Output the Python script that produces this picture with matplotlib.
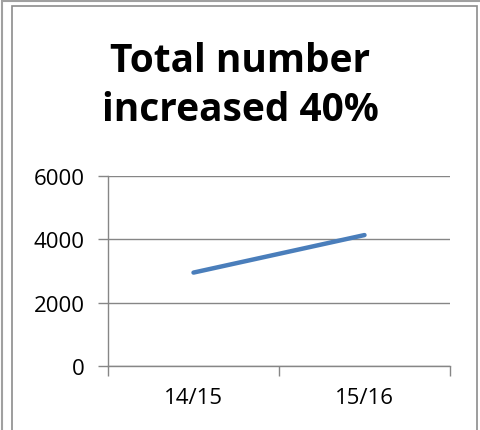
import matplotlib
matplotlib.use('Agg')
import matplotlib.pyplot as plt
from matplotlib.patches import Rectangle

# data
seasons = ['14/15', '15/16']
totals = [2950, 4135]
yticks = [0, 2000, 4000, 6000]

plt.rcParams['font.family'] = ['Open Sans', 'DejaVu Sans']

fig = plt.figure(figsize=(4.8, 4.31), dpi=100)
fig.patch.set_facecolor('white')

# double frame like the spreadsheet export
fig.patches.append(Rectangle((2/480, -0.1), 1.2, 1 - 1.5/431 + 0.1, transform=fig.transFigure,
                             fill=False, edgecolor='#a0a0a0', lw=1.5))
fig.patches.append(Rectangle((12/480, -0.1), (476.5-12)/480, 1 - 7/431 + 0.1, transform=fig.transFigure,
                             fill=False, edgecolor='#8c8c8c', lw=1.2))

ax = fig.add_axes([108/480, 1-367/431, (450-108)/480, (367-177)/431])
x = list(range(len(seasons)))
ax.plot(x, totals, color='#4a7ebb', lw=3.2, solid_capstyle='round')

ax.set_xlim(-0.5, len(seasons) - 0.5)
ax.set_ylim(0, 6000)
ax.set_yticks(yticks)
ax.set_yticklabels([str(v) for v in yticks])
ax.set_xticks(x)
ax.set_xticklabels(seasons)
ax.set_xticks([i - 0.5 for i in range(len(seasons) + 1)], minor=True)
ax.tick_params(axis='x', which='major', length=0, pad=15, labelsize=16)
ax.tick_params(axis='x', which='minor', length=7, color='#868686', width=1)
ax.tick_params(axis='y', length=7, color='#868686', width=1, pad=10, labelsize=16)

ax.grid(axis='y', color='#868686', lw=1)
ax.set_axisbelow(True)
for s in ['top', 'right']:
    ax.spines[s].set_visible(False)
for s in ['left', 'bottom']:
    ax.spines[s].set_color('#868686')
    ax.spines[s].set_linewidth(1)

fig.text(0.5, 1 - 86/431, 'Total number\nincreased 40%', ha='center', va='center',
         fontsize=28, fontweight='bold', linespacing=1.32)

fig.savefig('out.png', dpi=100)
